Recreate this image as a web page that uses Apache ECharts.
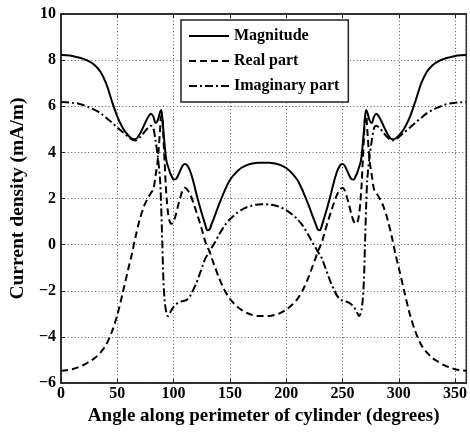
<!DOCTYPE html>
<html>
<head>
<meta charset="utf-8">
<script src="https://cdn.jsdelivr.net/npm/echarts@6/dist/echarts.min.js"></script>
<style>
html,body{margin:0;padding:0;background:#fff;}
#chart{width:470px;height:433px;}
</style>
</head>
<body>
<div id="chart"></div>
<script>
// Angle along perimeter (degrees)
const angles = [0,5,10,15,20,25,30,35,40,45,50,55,60,63,66,70,74,77,80,82,84,86,88,89,90,91,92,93,94,95,96,97,98,100,102,104,106,108,110,112,115,118,120,123,126,128,130,132,134,137,140,145,150,155,160,165,170,175,180,
185,190,195,200,205,210,215,220,223,226,228,230,232,234,237,240,242,245,248,250,252,254,256,258,260,262,263,264,265,266,267,268,269,270,271,272,274,276,278,280,283,286,290,294,297,300,305,310,315,320,325,330,335,340,345,350,355,360];

// Magnitude (mA/m)
const magnitude = [8.22,8.21,8.18,8.12,8.05,7.95,7.78,7.5,7.0,6.25,5.55,5.05,4.72,4.6,4.57,4.8,5.2,5.5,5.68,5.55,5.27,5.4,5.75,5.84,5.5,4.9,4.35,3.85,3.55,3.4,3.25,3.1,3.0,2.82,2.84,3.0,3.22,3.42,3.5,3.45,3.15,2.65,2.25,1.7,1.2,0.88,0.62,0.66,0.92,1.3,1.7,2.3,2.8,3.1,3.32,3.45,3.52,3.55,3.55,
3.55,3.52,3.45,3.32,3.1,2.8,2.3,1.7,1.3,0.92,0.66,0.62,0.88,1.2,1.7,2.25,2.65,3.15,3.45,3.5,3.42,3.22,3.0,2.84,2.82,3.0,3.1,3.25,3.4,3.55,3.85,4.35,4.9,5.5,5.84,5.75,5.4,5.27,5.55,5.68,5.5,5.2,4.8,4.57,4.6,4.72,5.05,5.55,6.25,7.0,7.5,7.78,7.95,8.05,8.12,8.18,8.21,8.22];

// Real part (mA/m)
const realPart = [-5.47,-5.45,-5.4,-5.32,-5.22,-5.08,-4.92,-4.68,-4.35,-3.8,-3.05,-2.05,-1.0,-0.4,0.3,1.1,1.7,2.0,2.25,2.4,3.0,3.7,5.0,5.6,5.5,4.6,3.6,2.6,1.9,1.4,1.1,0.95,0.9,1.0,1.3,1.7,2.05,2.35,2.47,2.4,2.15,1.75,1.45,1.0,0.5,0.15,-0.1,-0.3,-0.6,-1.0,-1.4,-1.95,-2.35,-2.62,-2.82,-2.96,-3.05,-3.1,-3.1,
-3.1,-3.05,-2.96,-2.82,-2.62,-2.35,-1.95,-1.4,-1.0,-0.6,-0.3,-0.1,0.15,0.5,1.0,1.45,1.75,2.15,2.4,2.47,2.35,2.05,1.7,1.3,1.0,0.9,0.95,1.1,1.4,1.9,2.6,3.6,4.6,5.5,5.6,5.0,3.7,3.0,2.4,2.25,2.0,1.7,1.1,0.3,-0.4,-1.0,-2.05,-3.05,-3.8,-4.35,-4.68,-4.92,-5.08,-5.22,-5.32,-5.4,-5.45,-5.47];

// Imaginary part (mA/m)
const imagPart = [6.18,6.17,6.15,6.12,6.05,5.95,5.84,5.7,5.5,5.3,5.08,4.87,4.66,4.55,4.52,4.65,4.88,5.05,5.15,5.05,4.5,3.8,2.8,1.6,0.0,-1.6,-2.4,-2.8,-3.0,-3.1,-3.05,-2.95,-2.85,-2.7,-2.6,-2.52,-2.48,-2.45,-2.43,-2.38,-2.2,-1.9,-1.7,-1.3,-0.9,-0.62,-0.45,-0.3,-0.12,0.12,0.4,0.8,1.1,1.32,1.5,1.62,1.7,1.74,1.75,
1.74,1.7,1.62,1.5,1.32,1.1,0.8,0.4,0.12,-0.12,-0.3,-0.45,-0.62,-0.9,-1.3,-1.7,-1.9,-2.2,-2.38,-2.43,-2.45,-2.48,-2.52,-2.6,-2.7,-2.85,-2.95,-3.05,-3.1,-3.0,-2.8,-2.4,-1.6,0.0,1.6,2.8,3.8,4.5,5.05,5.15,5.05,4.88,4.65,4.52,4.55,4.66,4.87,5.08,5.3,5.5,5.7,5.84,5.95,6.05,6.12,6.15,6.17,6.18];

const seriesNames = ['Magnitude', 'Real part', 'Imaginary part'];
const xTicks = [0, 50, 100, 150, 200, 250, 300, 350];
const yTicks = [-6, -4, -2, 0, 2, 4, 6, 8, 10];

const FONT = 'Liberation Serif';
const pairs = (ys) => angles.map((a, i) => [a, ys[i]]);
const fmtNum = (v) => (v < 0 ? '\u2212' + Math.abs(v) : String(v));

const chart = echarts.init(document.getElementById('chart'), null, {renderer: 'canvas'});

const gridLine = {show: true, lineStyle: {color: '#555', width: 1, type: [1, 2.4]}};
const axisLine = {show: true, onZero: false, lineStyle: {color: '#222', width: 1.5}};
const tick = {show: true, inside: true, length: 4, lineStyle: {color: '#222', width: 1}};

const lineBase = (name, data, type) => ({
  name: name,
  type: 'line',
  data: data,
  symbol: 'none',
  showSymbol: false,
  smooth: 0.3,
  lineStyle: {color: '#000', width: 2, type: type},
  itemStyle: {color: '#000'},
  z: 3
});

chart.setOption({
  backgroundColor: '#fff',
  animation: false,
  grid: {left: 59, top: 14, right: -2, bottom: 50, show: true, borderColor: '#222', borderWidth: 1.5, backgroundColor: 'transparent'},
  legend: {
    data: seriesNames,
    orient: 'vertical',
    left: 181,
    top: 20,
    itemWidth: 40,
    itemHeight: 14,
    itemGap: 9,
    padding: [8, 9, 8, 7],
    borderColor: '#222',
    borderWidth: 1.5,
    backgroundColor: '#fff',
    itemStyle: {opacity: 0},
    textStyle: {fontFamily: FONT, fontWeight: 'bold', fontSize: 16, color: '#000'}
  },
  xAxis: [{
    type: 'value',
    min: 0,
    max: 360,
    interval: 50,
    name: 'Angle along perimeter of cylinder (degrees)',
    nameLocation: 'middle',
    nameGap: 12,
    nameTextStyle: {fontFamily: FONT, fontWeight: 'bold', fontSize: 19, color: '#000'},
    axisLine: axisLine,
    axisTick: tick,
    splitLine: gridLine,
    axisLabel: {
      margin: 3,
      fontFamily: FONT, fontWeight: 'bold', fontSize: 16, color: '#000',
      showMaxLabel: false,
      formatter: (v) => (xTicks.indexOf(v) >= 0 ? fmtNum(v) : '')
    }
  }, {
    type: 'value', position: 'top', min: 0, max: 360, interval: 50,
    axisLine: axisLine, axisTick: tick, axisLabel: {show: false}, splitLine: {show: false}
  }],
  yAxis: [{
    type: 'value',
    min: -6,
    max: 10,
    interval: 2,
    name: 'Current density (mA/m)',
    nameLocation: 'middle',
    nameGap: 21,
    nameTextStyle: {fontFamily: FONT, fontWeight: 'bold', fontSize: 19.5, color: '#000'},
    axisLine: axisLine,
    axisTick: tick,
    splitLine: gridLine,
    axisLabel: {
      margin: 5,
      fontFamily: FONT, fontWeight: 'bold', fontSize: 16, color: '#000',
      formatter: (v) => (yTicks.indexOf(v) >= 0 ? fmtNum(v) : '')
    }
  }],
  series: [
    lineBase(seriesNames[0], pairs(magnitude), 'solid'),
    lineBase(seriesNames[1], pairs(realPart), [7, 4]),
    lineBase(seriesNames[2], pairs(imagPart), [8, 3, 2, 3])
  ]
});
</script>
</body>
</html>
